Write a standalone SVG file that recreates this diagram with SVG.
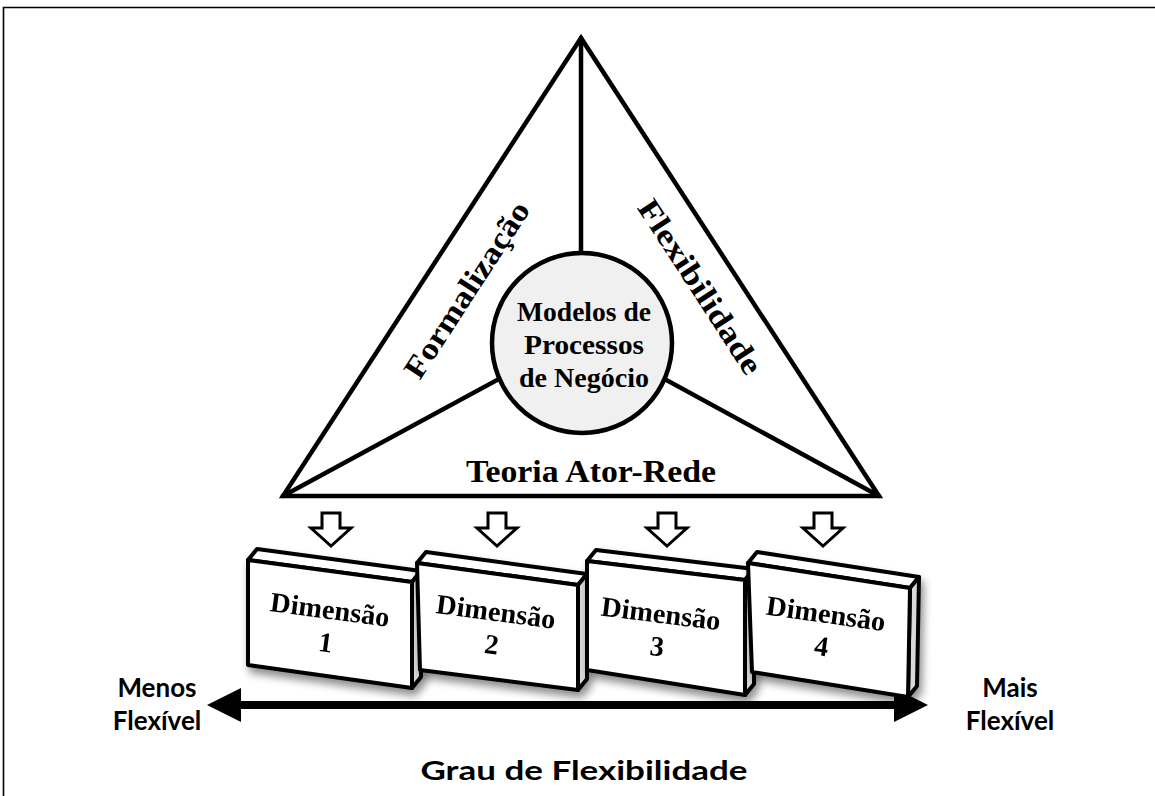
<svg xmlns="http://www.w3.org/2000/svg" width="1155" height="796" viewBox="0 0 1155 796">
<defs>
<style>
.ln{stroke:#000;stroke-width:4.5;fill:none;stroke-linecap:round}
.tri{stroke:#000;stroke-width:4.5;fill:#fff;stroke-linejoin:miter}
.ser{font-family:"Liberation Serif","Times New Roman",serif;font-weight:bold;fill:#000}
.san{font-family:Lato,"Liberation Sans",sans-serif;font-weight:bold;fill:#000}
.arr{fill:#fff;stroke:#000;stroke-width:3;stroke-linejoin:miter}
.front{fill:#fff;stroke:#000;stroke-width:4;stroke-linejoin:round}
.top{fill:#fff;stroke:#000;stroke-width:4;stroke-linejoin:round}
.side{fill:#d9d9d9;stroke:#000;stroke-width:4;stroke-linejoin:round}
</style>
<filter id="sh" x="-20%" y="-20%" width="150%" height="160%">
<feGaussianBlur in="SourceAlpha" stdDeviation="4"/>
<feOffset dx="3" dy="6" result="b"/>
<feComponentTransfer><feFuncA type="linear" slope="0.45"/></feComponentTransfer>
<feMerge><feMergeNode/><feMergeNode in="SourceGraphic"/></feMerge>
</filter>
</defs>
<rect width="1155" height="796" fill="#fff"/>
<path d="M3.5,796 V7.5 H1160" fill="none" stroke="#000" stroke-width="1.6"/>

<g id="triangle">
<polygon class="tri" points="581,38 283,496 879,496"/>
</g>
<g id="connectors">
<line class="ln" x1="581" y1="38" x2="581" y2="300"/>
<line class="ln" x1="283" y1="496" x2="582" y2="334"/>
<line class="ln" x1="879" y1="496" x2="582" y2="334"/>
<g id="flow-arrows">
<path class="arr" d="M322,513 h18 v15 h11 l-20,18 l-20,-18 h11 z"/>
<path class="arr" d="M488,513 h18 v15 h11 l-20,18 l-20,-18 h11 z"/>
<path class="arr" d="M658,513 h18 v15 h11 l-20,18 l-20,-18 h11 z"/>
<path class="arr" d="M814,513 h18 v15 h11 l-20,18 l-20,-18 h11 z"/>
</g>
<g id="scale-arrow">
<line x1="225" y1="705" x2="912" y2="705" stroke="#000" stroke-width="8"/>
<path d="M207,705 L241,688 L241,722 z M928,705 L894,688 L894,722 z" fill="#000"/>
</g>
</g>

<g id="center">
<circle cx="582" cy="343" r="90" fill="#f0f0f0" stroke="#000" stroke-width="4.5"/>
<text class="ser" font-size="27" text-anchor="middle"><tspan x="584" y="321" textLength="134" lengthAdjust="spacingAndGlyphs">Modelos de</tspan><tspan x="584" y="354" textLength="120" lengthAdjust="spacingAndGlyphs">Processos</tspan><tspan x="584" y="387" textLength="130" lengthAdjust="spacingAndGlyphs">de Negócio</tspan></text>
</g>

<g id="label-formalizacao">
<text class="ser" font-size="31" text-anchor="middle" transform="translate(467,290) rotate(-57)" y="10" textLength="204" lengthAdjust="spacingAndGlyphs">Formalização</text>
</g>
<g id="label-flexibilidade">
<text class="ser" font-size="31" text-anchor="middle" transform="translate(700,287) rotate(57)" y="10" textLength="202" lengthAdjust="spacingAndGlyphs">Flexibilidade</text>
</g>
<g id="label-teoria">
<text class="ser" font-size="31" text-anchor="middle" x="591" y="482" textLength="250" lengthAdjust="spacingAndGlyphs">Teoria Ator-Rede</text>
</g>

<g id="dim1" filter="url(#sh)">
<polygon class="top" points="248,560 412,582 421,571 257,549"/>
<polygon class="side" points="412,582 421,571 421,677 412,688"/>
<polygon class="front" points="248,560 412,582 412,688 248,665"/>
<text class="ser" font-size="28" text-anchor="middle" transform="translate(330,610) rotate(7.5)"><tspan x="0" y="9" textLength="120" lengthAdjust="spacingAndGlyphs">Dimensão</tspan><tspan x="0" y="42">1</tspan></text>
</g>
<g id="dim2" filter="url(#sh)">
<polygon class="top" points="417,563 578,585 587,574 426,552"/>
<polygon class="side" points="578,585 587,574 587,679 578,690"/>
<polygon class="front" points="417,563 578,585 578,690 420,670"/>
<text class="ser" font-size="28" text-anchor="middle" transform="translate(496,612) rotate(7.5)"><tspan x="0" y="9" textLength="120" lengthAdjust="spacingAndGlyphs">Dimensão</tspan><tspan x="0" y="42">2</tspan></text>
</g>
<g id="dim3" filter="url(#sh)">
<polygon class="top" points="587,561 745,580 754,569 596,550"/>
<polygon class="side" points="745,580 754,569 754,684 745,695"/>
<polygon class="front" points="587,561 745,580 745,695 587,670"/>
<text class="ser" font-size="28" text-anchor="middle" transform="translate(661,614) rotate(7)"><tspan x="0" y="9" textLength="120" lengthAdjust="spacingAndGlyphs">Dimensão</tspan><tspan x="0" y="42">3</tspan></text>
</g>
<g id="dim4" filter="url(#sh)">
<polygon class="top" points="748,563 910,588 919,577 757,552"/>
<polygon class="side" points="910,588 919,577 917,686 908,697"/>
<polygon class="front" points="748,563 910,588 908,697 752,672"/>
<text class="ser" font-size="28" text-anchor="middle" transform="translate(826,614) rotate(8)"><tspan x="0" y="9" textLength="120" lengthAdjust="spacingAndGlyphs">Dimensão</tspan><tspan x="0" y="42">4</tspan></text>
</g>

<g id="label-menos">
<text class="san" font-size="26" text-anchor="middle"><tspan x="157" y="697">Menos</tspan><tspan x="157" y="730">Flexível</tspan></text>
</g>
<g id="label-mais">
<text class="san" font-size="26" text-anchor="middle"><tspan x="1010" y="697">Mais</tspan><tspan x="1010" y="730">Flexível</tspan></text>
</g>
<g id="label-grau">
<text class="san" font-size="27" text-anchor="middle" x="584" y="780" textLength="327" lengthAdjust="spacingAndGlyphs">Grau de Flexibilidade</text>
</g>
</svg>
